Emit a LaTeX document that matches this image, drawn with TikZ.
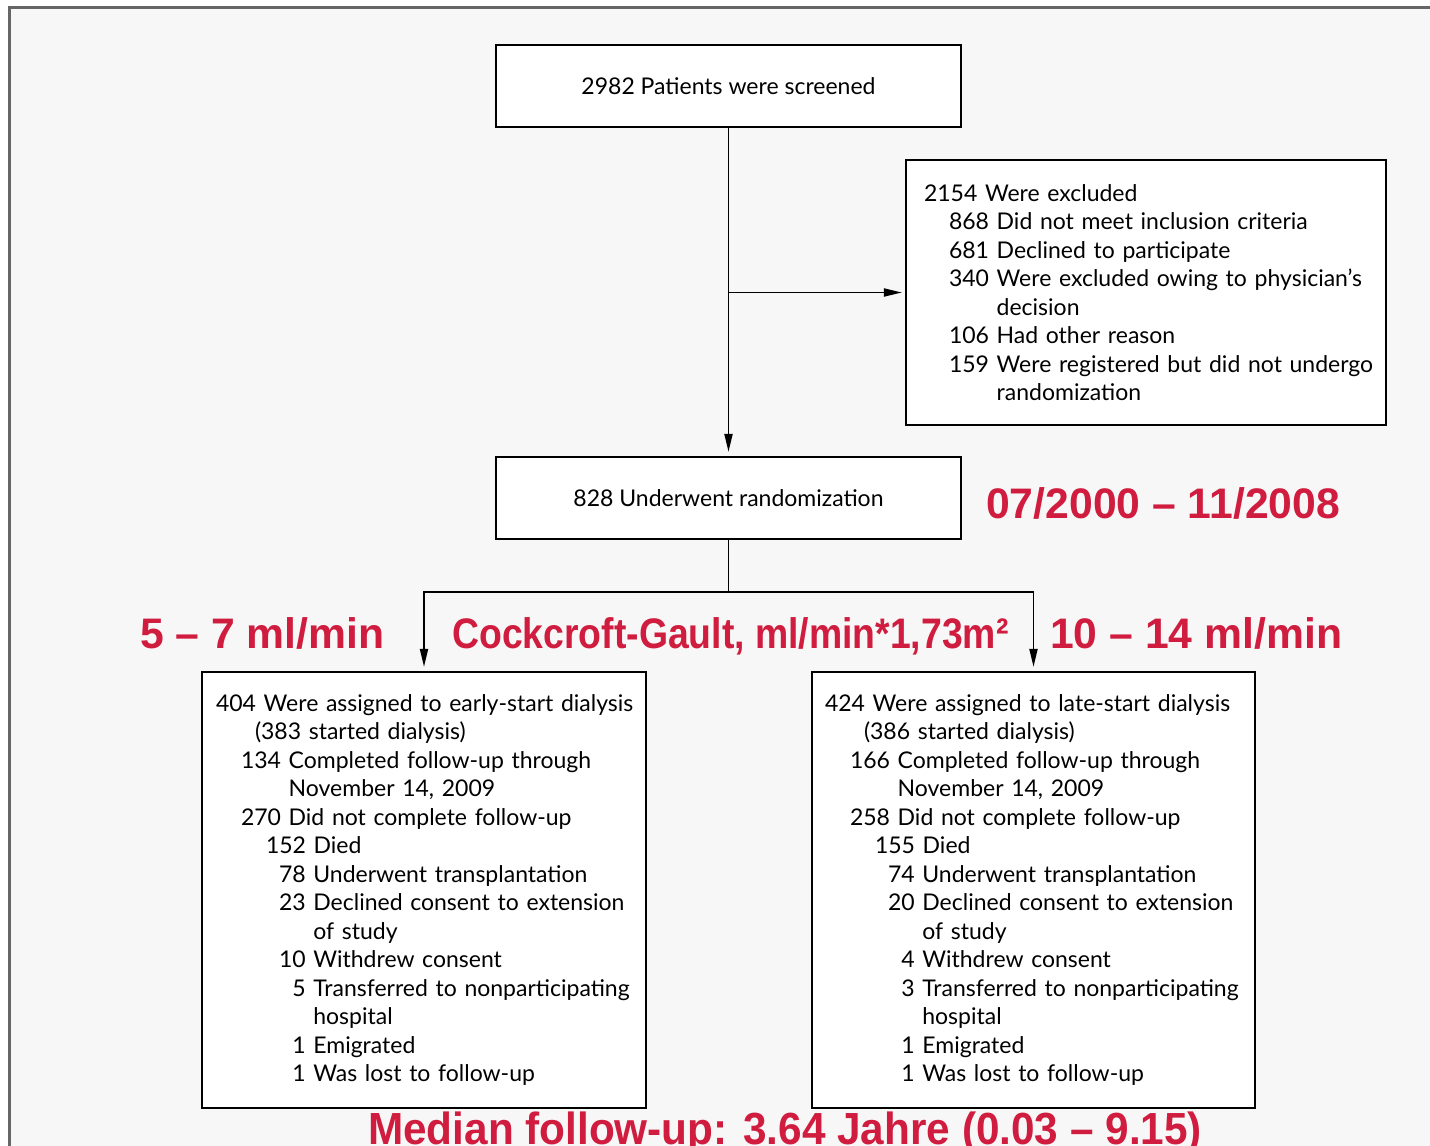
\documentclass[tikz,border=0pt]{standalone}
\usepackage{fontspec}
\setmainfont{Lato}
\newfontfamily\redfont{Liberation Sans}
\usetikzlibrary{arrows.meta}
\definecolor{redlab}{RGB}{208,28,62}
\definecolor{bgcol}{RGB}{247,247,247}
\definecolor{framecol}{RGB}{102,102,102}
\newcommand\boxfont{\fontsize{23}{28.5}\selectfont}
\newcommand\ind[1]{\hspace*{#1pt}}
\newcommand\ph[1]{\phantom{#1}}
\newcommand\nb[1]{\setbox0\hbox{00}\makebox[\wd0][r]{#1}}
\tikzset{
  box/.style={draw=black, line width=2.2pt, fill=white, inner sep=0pt, font=\boxfont},
  conn/.style={line width=1.9pt, draw=black},
  arr/.style={conn, -{Triangle[length=18pt,width=8pt]}, shorten >=4pt},
  redtxt/.style={text=redlab, inner sep=0pt, anchor=base west, font=\redfont\bfseries\fontsize{42.7}{42.7}\selectfont},
}
\begin{document}
\begin{tikzpicture}[x=1pt,y=-1pt]
\useasboundingbox (0,0) rectangle (1430,1146);
\clip (0,0) rectangle (1430,1146);
\fill[white] (0,0) rectangle (1430,1146);
\draw[framecol, line width=3pt, fill=bgcol] (9.5,7.5) rectangle (1460,1180);

\node[box, minimum width=465pt, minimum height=82pt] (screen) at (728.5,86) {2982 Patients were screened};

\node[box, minimum width=480pt, minimum height=265pt, text width=480pt, align=left] (excl) at (1146,292.5) {%
\ind{18}2154 Were excluded\\
\ind{43}868 Did not meet inclusion criteria\\
\ind{43}681 Declined to participate\\
\ind{43}340 Were excluded owing to physician’s\\
\ind{43}\ph{340 }decision\\
\ind{43}106 Had other reason\\
\ind{43}159 Were registered but did not undergo\\
\ind{43}\ph{159 }randomization};

\node[box, minimum width=465pt, minimum height=82pt] (rand) at (728.5,498) {828 Underwent randomization};

\node[box, minimum width=444pt, minimum height=436pt, text width=444pt, align=left] (early) at (424,890) {%
\ind{14}404 Were assigned to early-start dialysis\\
\ind{53}(383 started dialysis)\\
\ind{39}134 Completed follow-up through\\
\ind{39}\ph{134 }November 14, 2009\\
\ind{39}270 Did not complete follow-up\\
\ind{64}152 Died\\
\ind{77}78 Underwent transplantation\\
\ind{77}23 Declined consent to extension\\
\ind{77}\ph{23 }of study\\
\ind{77}10 Withdrew consent\\
\ind{77}\nb{5} Transferred to nonparticipating\\
\ind{77}\ph{23 }hospital\\
\ind{77}\nb{1} Emigrated\\
\ind{77}\nb{1} Was lost to follow-up};

\node[box, minimum width=443pt, minimum height=436pt, text width=443pt, align=left] (late) at (1033.5,890) {%
\ind{13}424 Were assigned to late-start dialysis\\
\ind{52}(386 started dialysis)\\
\ind{38}166 Completed follow-up through\\
\ind{38}\ph{166 }November 14, 2009\\
\ind{38}258 Did not complete follow-up\\
\ind{63}155 Died\\
\ind{76}74 Underwent transplantation\\
\ind{76}20 Declined consent to extension\\
\ind{76}\ph{20 }of study\\
\ind{76}\nb{4} Withdrew consent\\
\ind{76}\nb{3} Transferred to nonparticipating\\
\ind{76}\ph{20 }hospital\\
\ind{76}\nb{1} Emigrated\\
\ind{76}\nb{1} Was lost to follow-up};

\coordinate (branch) at (screen.south |- excl.west);
\draw[arr] (screen.south) -- (rand.north);
\draw[arr, shorten >=3pt] (branch) -- (excl.west);
\path (rand.south) ++(0,52) coordinate (split);
\draw[conn] (rand.south) -- (split);
\draw[arr] (split) -| (early.north);
\draw[arr] (split) -| (late.north);

\node[redtxt] (period) at (986,518) {07/2000 – 11/2008};
\node[redtxt] (lowrate) at (140,648) {5 – 7 ml/min};
\node[redtxt] (cg) at (452,648) {\scalebox{0.875}[1]{Cockcroft-Gault, ml/min*1,73m²}};
\node[redtxt] (highrate) at (1050,648) {10 – 14 ml/min};
\node[redtxt, font=\redfont\bfseries\fontsize{45}{45}\selectfont] (median) at (368,1144) {\scalebox{0.94}[1]{Median follow-up: 3.64 Jahre (0.03 – 9.15)}};
\end{tikzpicture}
\end{document}
